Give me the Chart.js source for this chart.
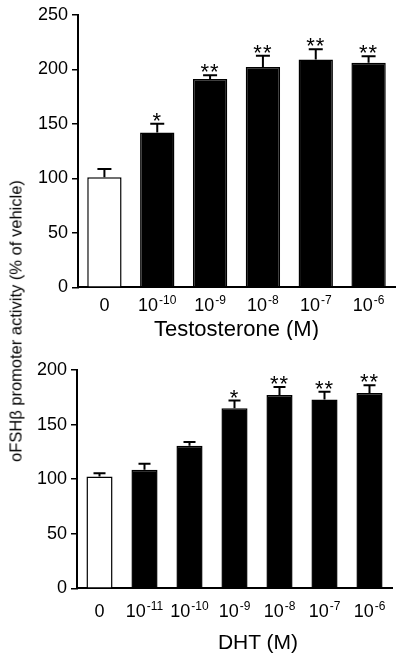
<!DOCTYPE html>
<html>
<head>
<meta charset="utf-8">
<script src="https://cdn.jsdelivr.net/npm/chart.js@4"></script>
<style>
  html, body { margin: 0; padding: 0; background: #fff; }
  #wrap { position: relative; width: 400px; height: 661px; overflow: hidden; }
  canvas { position: absolute; left: 0; }
  #c1 { top: 0; }
  #c2 { top: 340px; }
  .lbl {
    position: absolute; transform: translate(-50%, -50%);
    white-space: nowrap; font-family: "Liberation Sans", Arial, sans-serif; color: #000;
  }
  #ytitle { left: 16px; top: 321px; font-size: 16.5px; transform: translate(-50%, -50%) rotate(-90deg); }
  #dhtTitle { left: 258px; top: 641px; font-size: 21px; line-height: 1; }
</style>
</head>
<body>
<div id="wrap">
  <canvas id="c1" width="400" height="340"></canvas>
  <canvas id="c2" width="400" height="321"></canvas>
  <div id="ytitle" class="lbl">oFSHβ promoter activity (% of vehicle)</div>
  <div id="dhtTitle" class="lbl">DHT (M)</div>
</div>
<script>
// testosterone panel ("^" marks the exponent)
const testoLabels = ['0', '10^-10', '10^-9', '10^-8', '10^-7', '10^-6']
const testoMeans = [101, 142, 191, 202, 209, 206]
const testoErrors = [7.5, 8, 3.5, 10.5, 9.5, 6]
const testoStars = ['', '*', '**', '**', '**', '**']

// DHT panel
const dhtLabels = ['0', '10^-11', '10^-10', '10^-9', '10^-8', '10^-7', '10^-6']
const dhtMeans = [102.5, 108.5, 130.5, 165, 177, 173, 179]
const dhtErrors = [3, 5.5, 3.5, 7, 7.5, 7, 7]
const dhtStars = ['', '', '', '*', '**', '**', '**']

const FONT = '"Liberation Sans", Arial, sans-serif'

// upper error whisker + significance stars
const errorBarPlugin = {
    id: 'errorBars',
    afterDatasetsDraw(chart, args, opts) {
        const ctx = chart.ctx
        const meta = chart.getDatasetMeta(0)
        const y = chart.scales.y
        ctx.save()
        ctx.strokeStyle = '#000'
        ctx.fillStyle = '#000'
        ctx.lineWidth = 2
        meta.data.forEach((bar, i) => {
            const yBar = y.getPixelForValue(opts.means[i])
            const yTop = y.getPixelForValue(opts.means[i] + opts.errors[i])
            ctx.beginPath()
            ctx.moveTo(bar.x, yBar)
            ctx.lineTo(bar.x, yTop)
            ctx.moveTo(bar.x - opts.cap / 2, yTop)
            ctx.lineTo(bar.x + opts.cap / 2, yTop)
            ctx.stroke()
            if (opts.stars[i]) {
                ctx.font = '22px ' + FONT
                ctx.textAlign = 'center'
                ctx.textBaseline = 'alphabetic'
                ctx.letterSpacing = '1px'
                ctx.fillText(opts.stars[i], bar.x, yTop + 4)
            }
        })
        ctx.restore()
    }
}

// x tick labels with superscript exponents, placed at the category scale's ticks
const powerLabelsPlugin = {
    id: 'powerLabels',
    afterDraw(chart, args, opts) {
        const ctx = chart.ctx
        const x = chart.scales.x
        const baseY = chart.chartArea.bottom + opts.offset
        ctx.save()
        ctx.fillStyle = '#000'
        ctx.textAlign = 'left'
        ctx.textBaseline = 'alphabetic'
        chart.data.labels.forEach((label, i) => {
            const [base, exp] = label.split('^')
            ctx.font = '18px ' + FONT
            const wBase = ctx.measureText(base).width
            ctx.font = '12px ' + FONT
            const wExp = exp ? ctx.measureText(exp).width + 1 : 0
            const start = x.getPixelForTick(i) - (wBase + wExp) / 2
            ctx.font = '18px ' + FONT
            ctx.fillText(base, start, baseY)
            if (exp) {
                ctx.font = '12px ' + FONT
                ctx.fillText(exp, start + wBase + 1, baseY - 6.5)
            }
        })
        ctx.restore()
    }
}

const makeChart = (canvasId, labels, means, errors, stars, opts) => {
    const canvas = document.getElementById(canvasId)
    const H = canvas.height
    return new Chart(canvas, {
        type: 'bar',
        data: {
            labels: labels,
            datasets: [{
                data: means,
                backgroundColor: means.map((_, i) => i === 0 ? '#fff' : '#000'),
                borderColor: '#000',
                borderWidth: 1.5,
                categoryPercentage: 1,
                barPercentage: opts.barPct,
            }]
        },
        options: {
            responsive: false,
            animation: false,
            events: [],
            layout: { padding: { left: 0, right: opts.right, top: opts.top, bottom: 0 } },
            plugins: {
                legend: { display: false },
                tooltip: { enabled: false },
                errorBars: { means: means, errors: errors, stars: stars, cap: opts.cap },
                powerLabels: { offset: opts.labelOffset },
            },
            scales: {
                x: {
                    grid: { display: false, drawTicks: false },
                    border: { display: true, color: '#000', width: 2 },
                    ticks: { display: false },
                    title: {
                        display: !!opts.title, text: opts.title, color: '#000',
                        font: { family: FONT, size: 22, lineHeight: 1 },
                        padding: { top: 0, bottom: -1 }
                    },
                    afterFit: scale => { scale.height = H - opts.bottomY }
                },
                y: {
                    min: 0,
                    max: opts.max,
                    grid: { drawOnChartArea: false, drawTicks: true, tickLength: 6, color: '#000', lineWidth: 1.5 },
                    border: { display: true, color: '#000', width: 2 },
                    ticks: {
                        stepSize: 50, color: '#000', padding: 4,
                        font: { family: FONT, size: 18 }
                    },
                    afterFit: scale => { scale.width = opts.left }
                }
            }
        },
        plugins: [errorBarPlugin, powerLabelsPlugin]
    })
}

makeChart('c1', testoLabels, testoMeans, testoErrors, testoStars, {
    max: 250, barPct: 0.65, cap: 14, left: 78, right: 5, top: 14.3, bottomY: 287.3,
    labelOffset: 23.5, title: 'Testosterone (M)'
})

makeChart('c2', dhtLabels, dhtMeans, dhtErrors, dhtStars, {
    max: 200, barPct: 0.58, cap: 12, left: 77, right: 8, top: 30, bottomY: 248.3,
    labelOffset: 28.5, title: ''
})
</script>
</body>
</html>
